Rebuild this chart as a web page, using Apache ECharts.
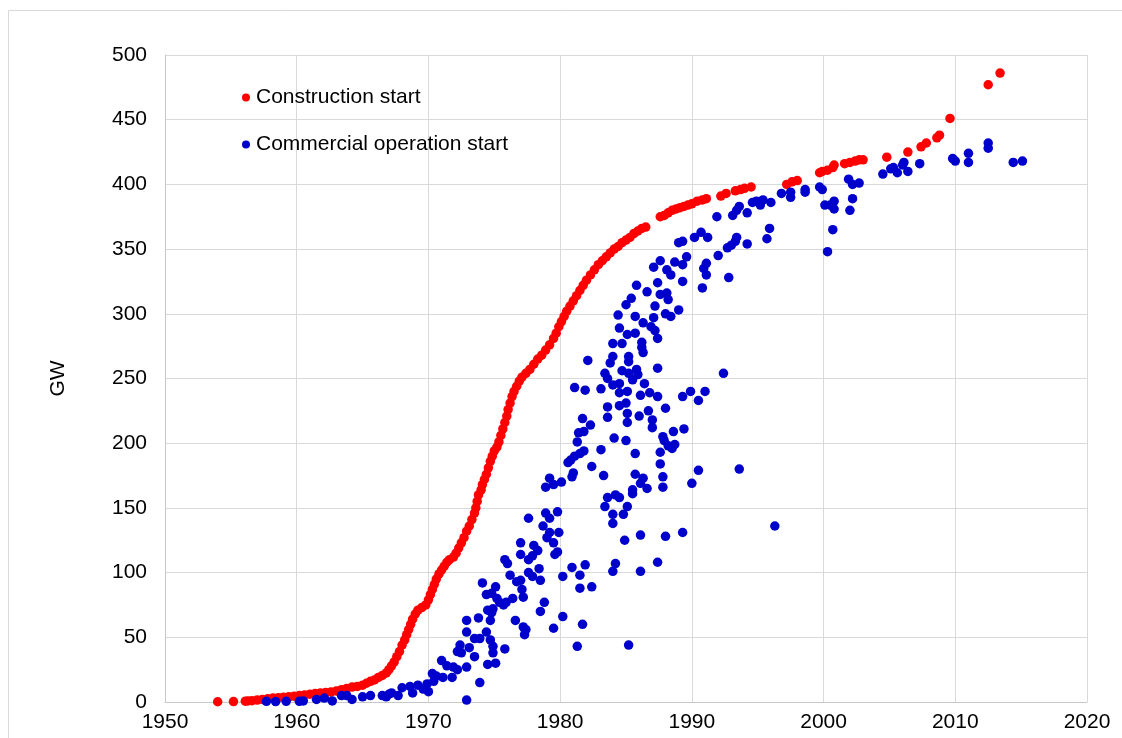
<!DOCTYPE html>
<html>
<head>
<meta charset="utf-8">
<script src="https://cdn.jsdelivr.net/npm/echarts@6/dist/echarts.min.js"></script>
<style>
html,body{margin:0;padding:0;background:#fff;}
#chart{width:1122px;height:738px;}
</style>
</head>
<body>
<div id="chart"></div>
<script>
const seriesNames = ['Construction start', 'Commercial operation start'];
const xTicks = [1950, 1960, 1970, 1980, 1990, 2000, 2010, 2020];
const yTicks = [0, 50, 100, 150, 200, 250, 300, 350, 400, 450, 500];
const yAxisName = 'GW';

// Construction start: [year, cumulative GW]
const constructionStart = [
[1954.0,0.2],[1955.2,0.3],[1956.1,0.6],[1956.3,0.8],[1956.6,1.0],[1957.0,1.5],[1957.4,2.0],[1957.8,2.5],[1958.2,3.0],[1958.6,3.3],
[1959.0,3.7],[1959.4,4.0],[1959.8,4.5],[1960.2,5.0],[1960.6,5.5],[1961.0,6.0],[1961.4,6.5],[1961.8,7.0],[1962.2,7.3],[1962.6,7.8],
[1963.0,8.5],[1963.4,9.5],[1963.8,10.5],[1964.2,11.5],[1964.6,12.0],[1965.0,13.0],[1965.3,14.5],[1965.6,16.0],[1965.9,17.0],[1966.2,19.0],
[1966.5,20.5],[1966.8,22.5],[1967.0,25],[1967.2,28],[1967.4,31],[1967.6,35],[1967.8,39],[1968.0,44],[1968.2,48],[1968.35,52],
[1968.5,56],[1968.65,60],[1968.8,64],[1969.0,68],[1969.2,71],[1969.5,73],[1969.8,75],[1970.0,79],[1970.15,83],[1970.3,87],
[1970.45,91],[1970.6,95],[1970.8,99],[1971.0,102],[1971.2,105],[1971.4,108],[1971.6,110],[1971.9,112],[1972.1,115],[1972.3,119],
[1972.5,123],[1972.7,127],[1972.9,132],[1973.1,136],[1973.3,141],[1973.5,146],[1973.6,150],[1973.7,155],[1973.8,160],[1974.0,164],
[1974.1,168],[1974.25,172],[1974.4,176],[1974.55,181],[1974.7,186],[1974.85,190],[1975.0,194],[1975.2,197],[1975.35,201],[1975.5,206],
[1975.65,211],[1975.8,216],[1975.95,221],[1976.05,226],[1976.2,231],[1976.35,236],[1976.5,240],[1976.7,244],[1976.9,248],[1977.1,251],
[1977.4,254],[1977.7,257],[1978.0,261],[1978.3,265],[1978.6,268],[1978.9,272],[1979.2,276],[1979.5,281],[1979.7,285],[1979.9,290],
[1980.1,294],[1980.3,298],[1980.5,302],[1980.75,306],[1981.0,310],[1981.25,314],[1981.5,318],[1981.75,322],[1982.0,326],[1982.3,330],
[1982.6,334],[1982.9,338],[1983.2,341],[1983.5,344],[1983.8,347],[1984.1,350],[1984.4,352],[1984.7,355],[1985.0,357],[1985.3,359],
[1985.6,362],[1985.9,364],[1986.2,366],[1986.5,367],[1987.6,375],[1987.9,376],[1988.2,378],[1988.5,380],[1988.8,381],[1989.1,382],
[1989.4,383],[1989.7,384],[1990.0,385],[1990.4,387],[1990.8,388],[1991.1,389],[1992.2,391],[1992.6,393],[1993.3,395],[1993.7,396],
[1994.0,397],[1994.5,398],[1997.2,400],[1997.6,402],[1998.0,403],[1999.7,409],[1999.9,410],[2000.3,411],[2000.7,413],[2000.8,415],
[2001.6,416],[2002.0,417],[2002.4,418],[2002.7,419],[2003.0,419],[2004.8,421],[2006.4,425],[2007.4,429],[2007.8,432],[2008.6,436],
[2008.8,438],[2009.6,451],[2012.5,477],[2013.4,486]
];

// Commercial operation start: [year, cumulative GW]
const commercialOperation = [
[1957.7,0.5],[1958.4,0.3],[1959.2,0.5],[1960.2,0.5],[1960.5,0.8],[1961.5,2],[1962.1,3],[1962.7,0.8],[1963.4,5],[1963.8,5],
[1964.2,2],[1965.0,4],[1965.6,5],[1966.5,5],[1966.8,4],[1967.0,6],[1967.2,7],[1967.7,5],[1968.0,11],[1968.6,12],[1968.8,7],
[1969.2,13],[1969.6,10],[1969.9,14],[1970.0,8],[1970.3,22],[1970.6,20],[1970.4,16],[1971.0,32],[1971.4,28],[1971.1,19],
[1971.8,19],[1971.9,27],[1972.2,25],[1972.2,39],[1972.4,44],[1972.5,38],[1972.9,63],[1972.9,54],[1972.9,27],[1972.9,1.5],
[1973.1,42],[1973.5,49],[1973.5,35],[1973.8,65],[1973.9,49],[1973.9,15],
[1974.1,92],[1974.4,83],[1974.8,84],[1975.1,89],[1975.2,80],[1975.4,77],[1974.9,72],[1974.5,71],[1974.8,69],[1974.7,63],
[1974.4,54],[1974.7,48],[1974.9,43],[1974.9,38],[1975.1,30],[1974.5,29],[1975.8,110],[1976.0,107],[1976.2,98],[1976.7,93],
[1977.0,94],[1977.1,87],[1977.2,81],[1976.4,80],[1975.9,77],[1975.7,75],[1976.6,63],[1977.2,58],[1977.4,56],[1977.3,52],[1975.8,41],
[1977.0,123],[1977.0,114],[1977.6,110],[1978.0,121],[1978.3,117],[1977.9,113],[1978.4,103],[1977.6,100],[1977.9,97],[1978.5,94],
[1978.8,77],[1978.5,70],[1977.6,142],[1978.7,136],[1978.9,146],[1979.2,142],[1979.8,147],[1979.2,131],[1979.0,127],[1979.9,131],
[1979.5,123],[1979.8,116],[1979.6,114],[1979.2,173],[1979.5,168],[1980.1,170],[1978.9,166],[1979.5,57],[1980.2,66],[1980.2,97],
[1980.9,104],[1981.9,106],[1981.5,98],[1981.5,88],[1982.4,89],[1981.7,60],[1981.3,43],
[1980.6,185],[1980.8,187],[1981.1,190],[1981.5,192],[1981.8,194],[1981.3,201],[1981.4,208],[1981.8,209],[1981.7,219],[1982.3,214],
[1981.0,177],[1980.9,174],[1982.4,182],[1983.3,175],[1983.1,195],[1981.1,243],[1981.9,241],[1983.1,242],[1982.1,264],
[1983.6,228],[1984.5,229],[1983.6,220],[1985.0,231],[1985.1,223],[1985.1,216],[1986.0,221],[1986.7,225],[1987.0,218],[1987.0,212],
[1987.9,202],[1988.0,227],[1984.1,204],[1985.0,202],
[1983.6,158],[1984.2,160],[1984.0,145],[1984.5,158],[1985.1,151],[1983.4,151],[1984.8,145],[1984.0,138],[1984.9,125],[1984.2,107],
[1984.0,101],[1985.2,44],
[1985.7,192],[1987.6,193],[1988.2,198],[1988.7,199],[1988.5,196],[1985.7,176],[1986.3,173],[1986.1,169],[1986.6,165],[1985.5,164],
[1985.5,161],[1987.6,184],[1987.8,174],[1987.8,166],[1990.5,179],[1990.0,169],[1993.6,180],[1986.1,129],[1988.0,128],[1989.3,131],
[1986.1,101],[1987.4,108],[1996.3,136],
[1983.8,262],[1984.0,267],[1985.2,267],[1985.2,263],[1984.7,256],[1983.4,254],[1983.6,250],[1984.0,245],[1984.5,246],[1985.2,254],
[1985.8,257],[1985.9,253],[1985.5,249],[1986.4,246],[1987.4,258],[1984.5,239],[1985.1,240],[1986.1,237],[1986.8,239],[1987.4,236],
[1985.8,322],[1986.6,317],[1987.4,324],[1987.6,315],[1988.1,316],[1985.4,312],[1985.0,307],[1984.4,299],[1985.7,298],[1987.2,306],
[1987.1,297],[1984.5,289],[1985.1,284],[1985.7,285],[1986.3,293],[1986.9,290],[1987.2,287],[1987.4,281],[1986.2,278],[1984.0,277],
[1984.7,277],[1986.2,274],[1986.3,270],[1987.6,341],[1987.1,336],
[1988.2,311],[1989.0,303],[1988.0,300],[1988.4,298],[1989.3,236],[1989.9,240],[1990.5,233],[1991.0,240],[1992.4,254],[1988.6,209],
[1989.4,211],[1987.8,205],
[1988.1,334],[1988.4,330],[1989.3,325],[1988.7,340],[1989.3,338],[1989.6,344],[1989.3,356],[1989.0,355],[1990.2,359],[1990.7,363],
[1991.2,359],[1990.8,320],[1991.1,339],[1990.9,335],[1991.1,330],[1992.8,328],[1992.0,345],[1992.7,351],[1993.0,353],[1993.3,356],
[1993.4,359],[1994.2,354],[1995.7,358],[1995.9,366],[1991.9,375],[1993.1,376],[1993.4,380],[1993.6,383],[1994.2,378],[1994.6,386],
[1994.9,387],[1995.2,384],[1995.4,388],[1996.0,386],[1996.8,393],[1997.5,394],[1997.5,390],[1998.6,396],[1998.6,394],[1999.7,398],
[1999.9,396],[2000.1,384],[2000.5,384],[2000.8,387],[2000.8,381],[2000.7,365],[2000.3,348],[2001.9,404],[2002.2,400],[2002.7,401],
[2002.0,380],[2002.2,389],[2004.5,408],[2005.1,412],[2005.3,413],[2005.6,409],[2006.0,415],[2006.1,417],[2006.4,410],[2007.3,416],
[2009.8,420],[2010.0,418],[2011.0,424],[2011.0,417],[2012.5,432],[2012.5,428],[2014.4,417],[2015.1,418]
];

const FONT = '"Liberation Sans", Arial, sans-serif';
const chart = echarts.init(document.getElementById('chart'), null, {renderer: 'canvas'});
chart.setOption({
  animation: false,
  backgroundColor: '#ffffff',
  graphic: [{
    type: 'rect', silent: true, z: -10,
    shape: {x: 8.5, y: 10.5, width: 1130, height: 740},
    style: {fill: 'none', stroke: '#d9d9d9', lineWidth: 1}
  }],
  grid: {left: 165, top: 55, right: 35, bottom: 36, containLabel: false},
  legend: {
    orient: 'vertical', left: 237, top: 82,
    itemWidth: 10, itemHeight: 8, itemGap: 26,
    icon: 'circle',
    textStyle: {fontFamily: FONT, fontSize: 21, color: '#000', lineHeight: 21},
    data: seriesNames
  },
  xAxis: {
    type: 'value', min: xTicks[0], max: xTicks[xTicks.length - 1], interval: 10,
    axisLine: {show: true, lineStyle: {color: '#c8c8c8'}},
    axisTick: {show: false},
    splitLine: {show: true, lineStyle: {color: '#d9d9d9', width: 1}},
    axisLabel: {fontFamily: FONT, fontSize: 21, color: '#000', margin: 10, formatter: v => String(v)}
  },
  yAxis: {
    type: 'value', min: yTicks[0], max: yTicks[yTicks.length - 1], interval: 50,
    name: yAxisName, nameLocation: 'middle', nameGap: 96, nameRotate: 90,
    nameTextStyle: {fontFamily: FONT, fontSize: 21, color: '#000'},
    axisLine: {show: true, lineStyle: {color: '#c8c8c8'}},
    axisTick: {show: false},
    splitLine: {show: true, lineStyle: {color: '#d9d9d9', width: 1}},
    axisLabel: {fontFamily: FONT, fontSize: 21, color: '#000', margin: 18, formatter: v => String(v)}
  },
  series: [
    {name: seriesNames[0], type: 'scatter', data: constructionStart, symbolSize: 9.5,
     itemStyle: {color: '#ff0000', opacity: 1}},
    {name: seriesNames[1], type: 'scatter', data: commercialOperation, symbolSize: 9.5,
     itemStyle: {color: '#0000cc', opacity: 1}}
  ]
});
</script>
</body>
</html>
